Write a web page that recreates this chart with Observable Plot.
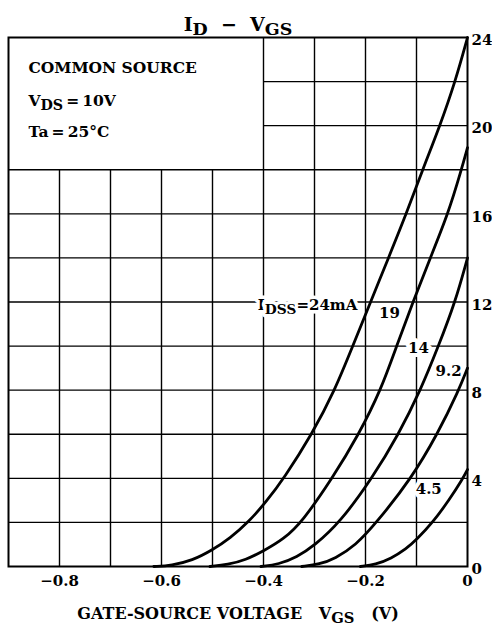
<!DOCTYPE html>
<html>
<head>
<meta charset="utf-8">
<script src="https://cdn.jsdelivr.net/npm/d3@7"></script>
<script src="https://cdn.jsdelivr.net/npm/@observablehq/plot@0.6"></script>
<style>
  html, body { margin: 0; padding: 0; background: #fff; }
  svg text { white-space: pre; }
</style>
</head>
<body>
<div id="chart"></div>
<script>
// ---- data ----
const seriesNames = ["24", "19", "14", "9.2", "4.5"];

const vgs_24 = [-0.615, -0.58, -0.54, -0.5, -0.465, -0.43, -0.395, -0.36, -0.305, -0.26, -0.225, -0.19, -0.155, -0.12, -0.088, -0.054, -0.024, 0];
const id_24  = [0, 0.05, 0.27, 0.75, 1.3, 2, 2.93, 4, 6, 8, 10, 12, 14, 16, 18, 20, 22, 24];

const vgs_19 = [-0.505, -0.47, -0.435, -0.4, -0.36, -0.325, -0.265, -0.213, -0.17, -0.139, -0.107, -0.073, -0.038, -0.012, 0];
const id_19  = [0, 0.08, 0.3, 0.7, 1.25, 2, 4, 6, 8, 10, 12, 14, 16, 18, 19];

const vgs_14 = [-0.405, -0.37, -0.335, -0.3, -0.25, -0.187, -0.135, -0.092, -0.057, -0.024, 0];
const id_14  = [0, 0.1, 0.42, 0.95, 2, 4, 6, 8, 10, 12, 14];

const vgs_92 = [-0.325, -0.29, -0.26, -0.22, -0.178, -0.11, -0.059, -0.017, 0];
const id_92  = [0, 0.1, 0.36, 0.94, 2, 4, 6, 8, 9];

const vgs_45 = [-0.21, -0.18, -0.15, -0.12, -0.1, -0.068, -0.035, -0.01, 0];
const id_45  = [0, 0.09, 0.36, 0.8, 1.22, 2, 3.05, 3.95, 4.4];

const xTicks = [-0.8, -0.6, -0.4, -0.2, 0];
const yTicks = [0, 4, 8, 12, 16, 20, 24];
const vGrid = [-0.8, -0.7, -0.6, -0.5, -0.4, -0.3, -0.2, -0.1];
const hGrid = [2, 4, 6, 8, 10, 12, 14, 16, 18, 20, 22];

const idssLabel = "I_{DSS}=24mA";
const idssLabelV = -0.216, idssLabelI = 11.85;
const curveLabels = ["19", "14", "9.2", "4.5"];
const curveLabelV = [-0.153, -0.096, -0.037, -0.076];
const curveLabelI = [11.5, 9.9, 8.85, 3.5];

const noteLines = ["COMMON SOURCE", "V_{DS}\u2009=\u200910V", "Ta\u2009=\u200925°C"];
const noteV = [-0.861, -0.861, -0.861];
const noteI = [22.6, 21.1, 19.7];

const boxV = -0.4, boxI = 18;

// ---- build table ----
const seriesV = [vgs_24, vgs_19, vgs_14, vgs_92, vgs_45];
const seriesI = [id_24, id_19, id_14, id_92, id_45];
const curves = seriesNames.flatMap((name, k) =>
  seriesV[k].map((v, i) => ({series: name, v, id: seriesI[k][i]})));
const labels = curveLabels.map((t, i) => ({t, v: curveLabelV[i], id: curveLabelI[i]}));
const notes = noteLines.map((t, i) => ({t, v: noteV[i], id: noteI[i]}));

const font = "'DejaVu Serif', serif";

const chart = Plot.plot({
  width: 492,
  height: 632,
  marginLeft: 8,
  marginRight: 25,
  marginTop: 37,
  marginBottom: 66,
  style: {fontFamily: font, fontSize: "15px", fontWeight: "bold", color: "#000", background: "#fff", overflow: "visible"},
  x: {domain: [-0.9, 0]},
  y: {domain: [0, 24]},
  marks: [
    Plot.ruleX(vGrid, {x: d => d, y1: 0, y2: d => d < boxV - 0.01 ? boxI : 24, stroke: "#000", strokeWidth: 1.4}),
    Plot.ruleY(hGrid, {y: d => d, x1: d => d > boxI ? boxV : -0.9, x2: 0, stroke: "#000", strokeWidth: 1.4}),
    Plot.text([idssLabel], {x: idssLabelV, y: idssLabelI, textAnchor: "end",
      fontSize: 15, fontFamily: font, fontWeight: "bold", fill: "#000", stroke: "#fff", strokeWidth: 7}),
    Plot.text(labels, {x: "v", y: "id", text: "t", textAnchor: "middle",
      fontSize: 15, fontFamily: font, fontWeight: "bold", fill: "#000", stroke: "#fff", strokeWidth: 8}),
    Plot.text(notes, {x: "v", y: "id", text: "t", textAnchor: "start", fontSize: 15.5, fontFamily: font, fontWeight: "bold", fill: "#000"}),
    Plot.line(curves, {x: "v", y: "id", z: "series", curve: "basis", stroke: "#000", strokeWidth: 2.8}),
    Plot.frame({stroke: "#000", strokeWidth: 2}),
    Plot.axisX(xTicks, {tickSize: 0, tickPadding: 9, label: null, fontSize: 15,
      tickFormat: d => d === 0 ? "0" : d3.format(".1f")(d)}),
    Plot.axisY(yTicks, {anchor: "right", tickSize: 0, tickPadding: 4, label: null, fontSize: 15, dy: 3}),
    Plot.text(["I_{D}  \u2212  V_{GS}"], {frameAnchor: "top", dy: -20, fontSize: 19, fontFamily: font, fontWeight: "bold", fill: "#000"}),
    Plot.text(["GATE-SOURCE VOLTAGE   V_{GS}   (V)"], {frameAnchor: "bottom", dy: 52, fontSize: 16, fontFamily: font, fontWeight: "bold", fill: "#000"})
  ]
});

// subscripts: "_{..}" -> lowered tspan
const NS = "http://www.w3.org/2000/svg";
chart.querySelectorAll("text").forEach(t => {
  const s = t.textContent;
  if (!s.includes("_{")) return;
  while (t.firstChild) t.removeChild(t.firstChild);
  const parts = s.split(/(_\{[^}]*\})/).filter(p => p.length);
  let lowered = false;
  parts.forEach(p => {
    const ts = document.createElementNS(NS, "tspan");
    if (p.startsWith("_{")) {
      ts.textContent = p.slice(2, -1);
      ts.setAttribute("dy", "4");
      ts.setAttribute("font-size", "92%");
      lowered = true;
    } else {
      ts.textContent = p;
      if (lowered) { ts.setAttribute("dy", "-4"); lowered = false; }
    }
    t.appendChild(ts);
  });
});

document.getElementById("chart").appendChild(chart);
</script>
</body>
</html>
